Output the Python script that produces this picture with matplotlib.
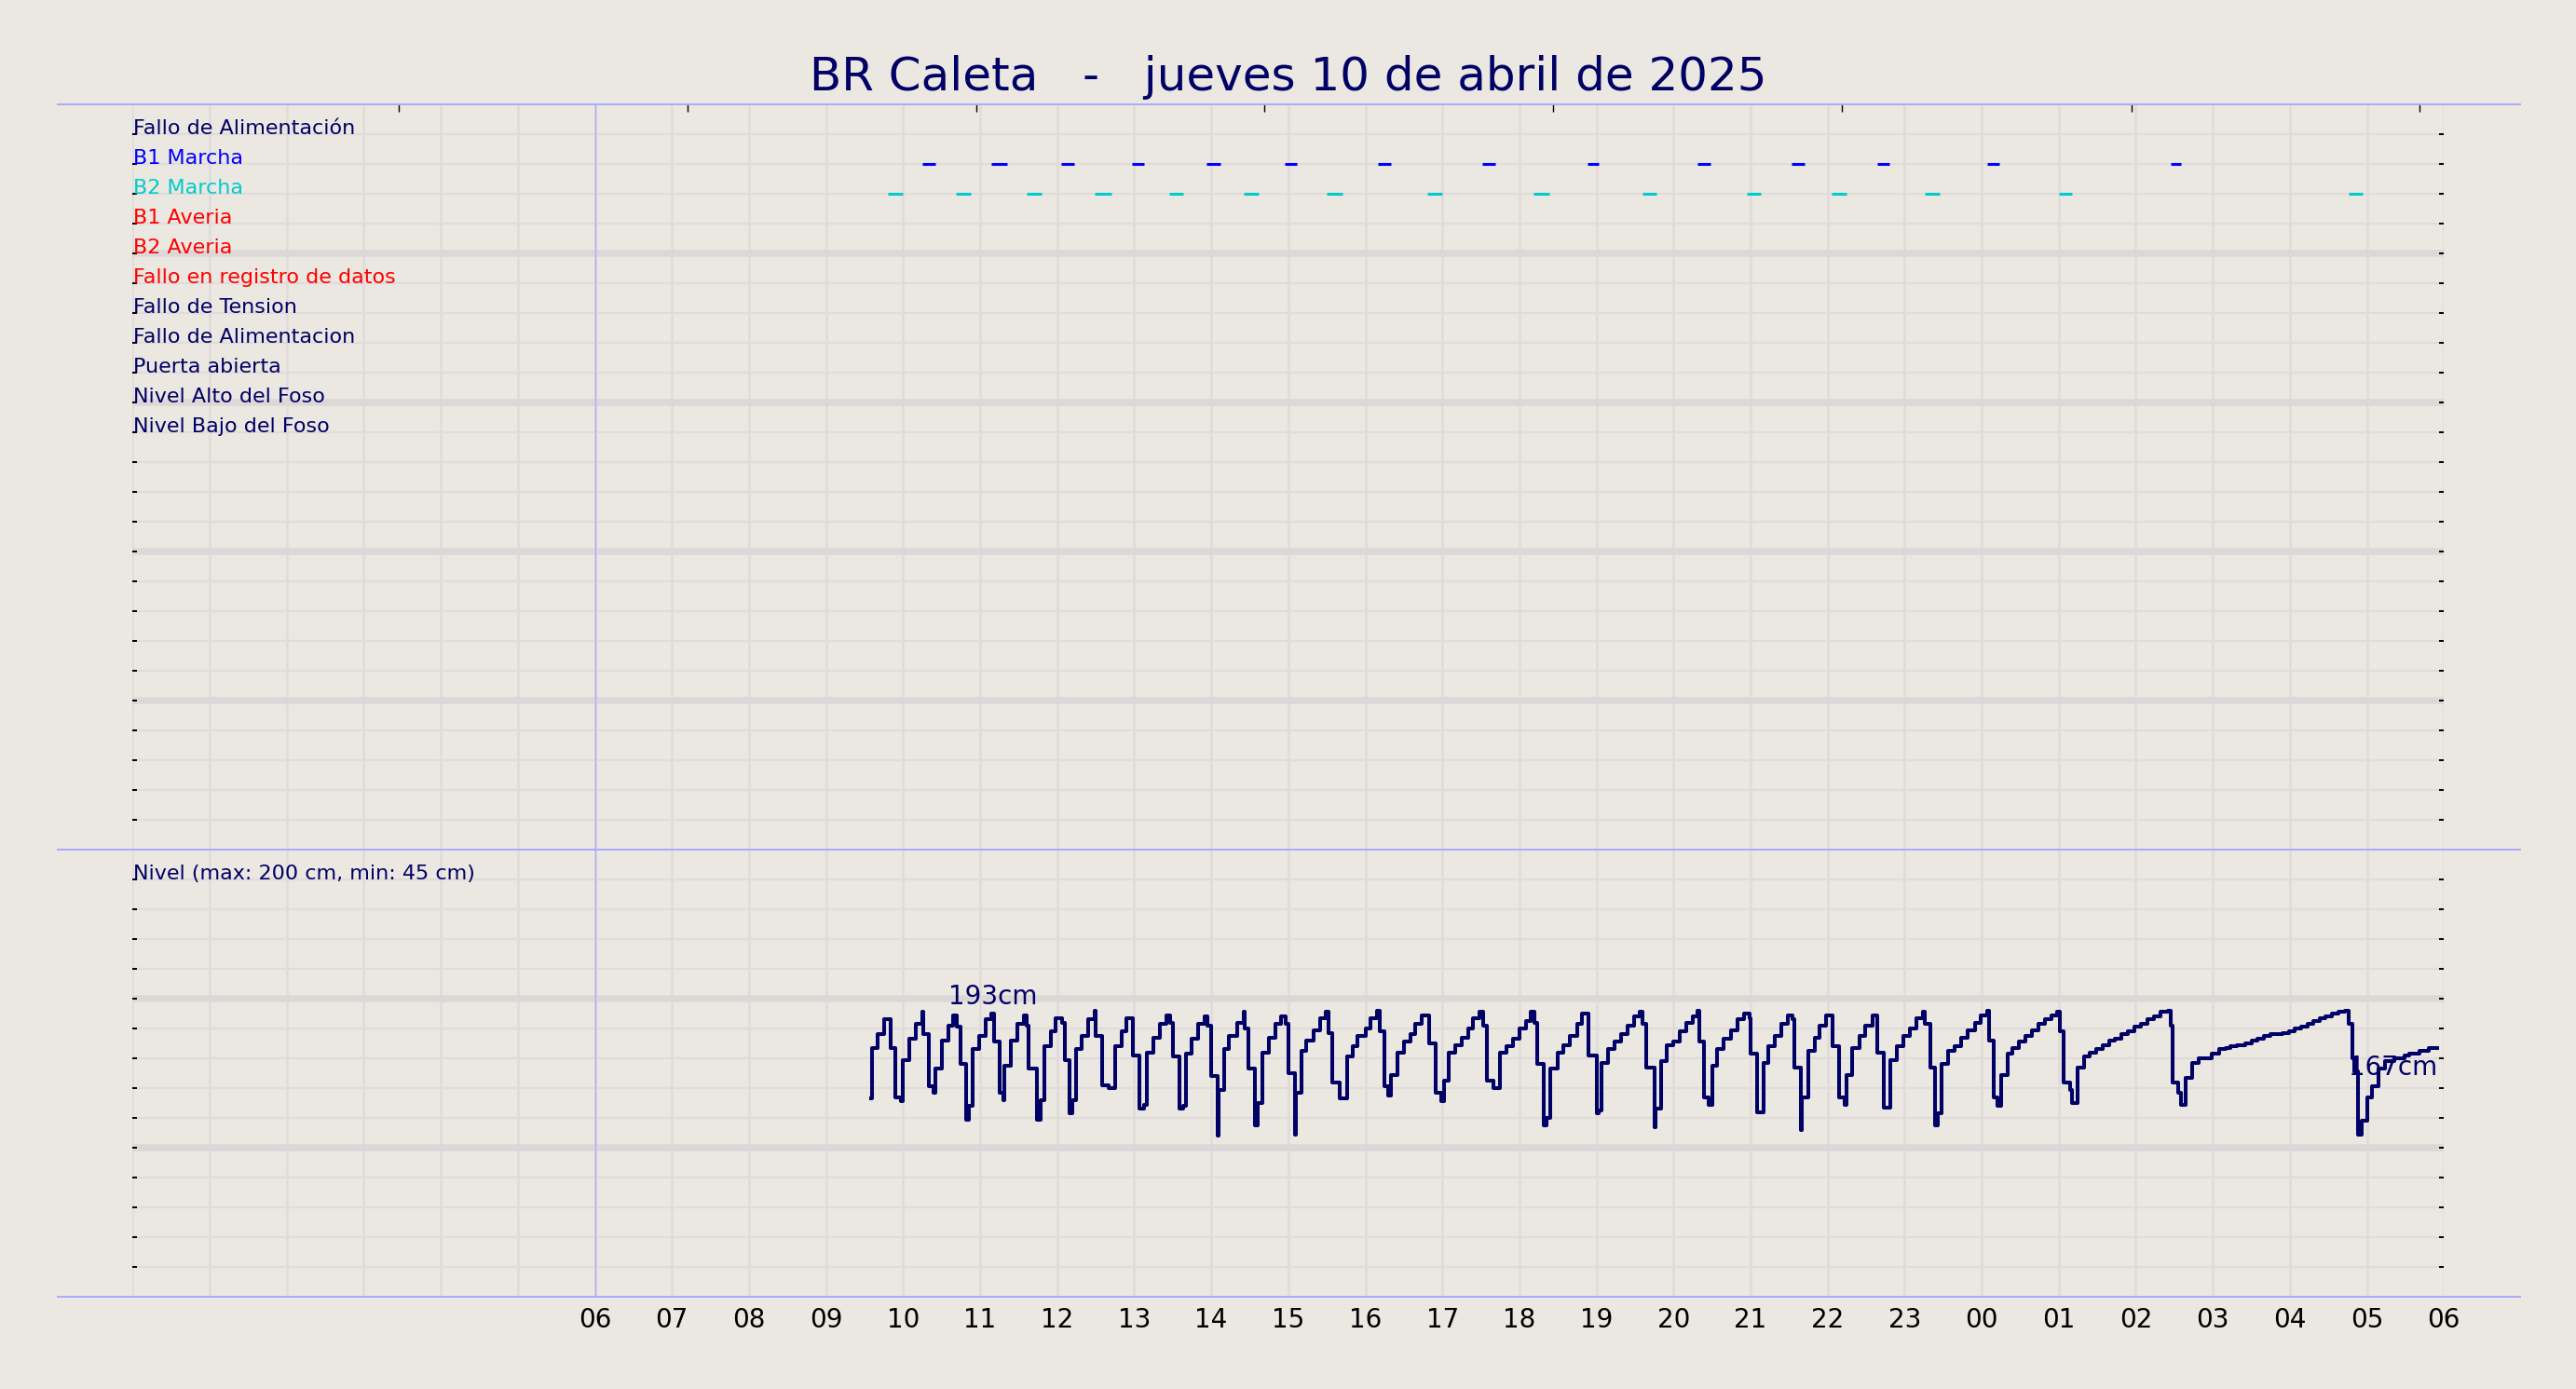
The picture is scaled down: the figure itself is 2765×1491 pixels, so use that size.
import matplotlib
matplotlib.use("Agg")
import matplotlib.pyplot as plt
from matplotlib.lines import Line2D
import numpy as np

# --- data -------------------------------------------------------------
title = "BR Caleta   -   jueves 10 de abril de 2025"

row_labels = ["Fallo de Alimentación", "B1 Marcha", "B2 Marcha", "B1 Averia",
              "B2 Averia", "Fallo en registro de datos", "Fallo de Tension",
              "Fallo de Alimentacion", "Puerta abierta", "Nivel Alto del Foso",
              "Nivel Bajo del Foso"]
row_colors = ["#000066", "#0000ff", "#00cccc", "#ff0000", "#ff0000", "#ff0000",
              "#000066", "#000066", "#000066", "#000066", "#000066"]

# pump running intervals, minutes from 00:00 of the day (values > 1440 are next day)
b1_start = [615, 669, 723, 778, 836, 897, 970, 1051, 1133, 1219, 1292, 1359, 1444, 1587]
b1_end = [625, 681, 733, 788, 847, 907, 980, 1061, 1142, 1229, 1302, 1368, 1454, 1595]
b2_start = [588, 641, 696, 749, 807, 865, 930, 1008, 1091, 1176, 1257, 1323, 1396, 1500, 1726]
b2_end = [600, 653, 708, 762, 818, 877, 942, 1020, 1103, 1187, 1268, 1335, 1407, 1510, 1737]

# pit level (cm), step series
level_min = [
    575, 576, 580, 585, 590, 594, 598, 600, 605, 610, 615, 616, 620, 624, 625, 630,
    635, 639, 642, 645, 649, 651, 654, 659, 664, 669, 671, 675, 678, 679, 684, 689,
    694, 696, 698, 704, 707, 710, 715, 719, 724, 726, 730, 732, 735, 739, 744, 749,
    750, 755, 760, 765, 770,
    774, 779, 784, 788, 790, 795, 800, 805, 808, 810, 815, 818, 820, 825, 830, 835,
    837, 840, 845, 846, 850, 854, 860, 865, 866, 869, 874, 876, 880, 885, 890, 894,
    898, 900, 905, 906, 910, 914, 920, 925, 929, 931, 934, 940, 946, 950, 954, 960,
    964, 969, 971, 975,
    978, 980, 985, 990, 995, 999, 1004, 1010, 1015, 1019, 1021, 1025, 1030, 1035,
    1040, 1044, 1049, 1052, 1055, 1060, 1065, 1070, 1075, 1080, 1085, 1089, 1092,
    1094, 1099, 1101, 1104, 1110, 1114, 1119, 1125, 1129, 1134, 1140, 1142, 1144,
    1149, 1154, 1159, 1164, 1169, 1174, 1176, 1179,
    1185, 1186, 1190, 1195, 1200, 1205, 1210, 1215, 1219, 1220, 1224, 1227, 1230,
    1234, 1239, 1245, 1250, 1255, 1259, 1260, 1265, 1270, 1274, 1279, 1284, 1289,
    1293, 1294, 1299, 1300, 1305, 1310, 1314, 1319, 1324, 1329, 1333, 1335, 1339,
    1345, 1349, 1355, 1359, 1364, 1369, 1374, 1379,
    1384, 1389, 1394, 1396, 1400, 1404, 1406, 1409, 1414, 1419, 1424, 1429, 1435,
    1439, 1444, 1446, 1449, 1452, 1455, 1460, 1464, 1469, 1474, 1479, 1484, 1489,
    1494, 1499, 1501, 1504, 1509, 1510, 1515, 1520, 1524, 1529, 1534, 1539, 1544,
    1549, 1554, 1559, 1564, 1569, 1574, 1579, 1585,
    1587, 1589, 1593, 1595, 1599, 1604, 1609, 1619, 1625, 1630, 1634, 1639, 1645,
    1650, 1655, 1660, 1665, 1674, 1679, 1684, 1689, 1694, 1698, 1703, 1708, 1713,
    1718, 1723, 1726, 1729, 1730, 1733, 1736, 1740, 1744, 1749, 1754, 1761, 1769,
    1773, 1781, 1788, 1795]
level_cm = [
    133, 167, 176, 186, 167, 134, 131, 159, 173, 183, 191, 176, 141, 137, 153, 172,
    182, 189, 181, 156, 119, 128, 166, 175, 186, 190, 171, 137, 132, 155, 172, 183,
    189, 182, 153, 119, 132, 168, 178, 187, 184, 159, 123, 132, 166, 175, 186, 192,
    175, 142, 140, 168, 178,
    187, 162, 126, 129, 164, 174, 183, 189, 184, 161, 126, 128, 163, 173, 183, 188,
    182, 148, 108, 139, 166, 175, 184, 191, 180, 153, 115, 130, 164, 174, 183, 188,
    183, 150, 109, 137, 165, 172, 179, 187, 191, 177, 144, 133, 161, 168, 175, 180,
    187, 192, 178, 141,
    135, 149, 164, 171, 176, 183, 189, 170, 137, 131, 145, 164, 169, 174,
    180, 187, 191, 182, 145, 140, 164, 168, 173, 180, 185, 191, 184,
    156, 115, 120, 153, 164, 169, 175, 183, 190, 162, 123, 125, 157,
    166, 171, 176, 182, 188, 191, 183, 154,
    114, 126, 158, 169, 171, 178, 184, 188, 192, 171, 134, 129, 155,
    166, 173, 179, 186, 190, 187, 163, 124, 157, 168, 175, 183, 189,
    186, 154, 112, 134, 165, 174, 182, 189, 168, 134, 129, 149, 167,
    175, 182, 189, 164, 127, 159, 168, 175,
    180, 187, 191, 183, 154, 115, 123, 156, 165, 168, 174, 179, 184,
    189, 192, 172, 134, 128, 149, 163, 167, 171, 175, 179, 183, 186,
    189, 191, 178, 144, 139, 130, 154, 161, 164, 166, 169, 172, 173,
    176, 178, 181, 183, 186, 188, 191, 192,
    182, 144, 137, 129, 147, 157, 160, 163, 166, 167, 168, 169, 170,
    172, 173, 175, 176, 177, 178, 180, 181, 183, 185, 187, 188, 190,
    191, 192, 183, 160, 151, 109, 118, 134, 141, 153, 158, 160, 162,
    163, 165, 167, 167]

hour_labels = ["06", "07", "08", "09", "10", "11", "12", "13", "14", "15", "16", "17",
               "18", "19", "20", "21", "22", "23", "00", "01", "02", "03", "04", "05", "06"]
top_tick_hours = [3.45, 7.20, 10.95, 14.69, 18.44, 22.19, 25.94, 29.68]

max_label = "193cm"
last_label = "167cm"
scale_label = "Nivel (max: 200 cm, min: 45 cm)"

# --- style --------------------------------------------------------------
BG = "#ebe7e1"
GRID = "#e1dcdb"
GRID_MAJ = "#ddd8d8"
NAVY = "#000066"
LBLUE = "#aaaaff"

fig = plt.figure(figsize=(13.825, 7.455), dpi=200, facecolor=BG)
L, W = 0.05147, 0.89728
y_top, y_mid, y_bot = 0.92488, 0.38833, 0.0664
ax_top = fig.add_axes([L, y_mid, W, y_top - y_mid])
ax_bot = fig.add_axes([L, y_bot, W, y_mid - y_bot])


def base_grid(ax, rows, row_pos):
    ax.set_facecolor(BG)
    ax.set_xlim(0, 30)
    for s in ax.spines.values():
        s.set_visible(False)
    for h in range(31):
        ax.axvline(h, color=GRID, lw=1.0, zorder=0)
    for r in range(1, rows):
        major = (r % 5 == 0)
        ax.axhline(row_pos(r), color=GRID_MAJ if major else GRID,
                   lw=2.7 if major else 0.85, zorder=0)
    ax.set_yticks([row_pos(r) for r in range(1, rows)])
    ax.tick_params(axis="y", left=True, right=True, direction="in", length=1.8,
                   width=0.7, color="black", labelleft=False, labelright=False)
    ax.axvline(6, color=LBLUE, lw=0.5, zorder=1)


# top panel: event rows
base_grid(ax_top, 25, lambda r: r)
ax_top.set_ylim(25, 0)
ax_top.set_xticks(top_tick_hours)
ax_top.tick_params(axis="x", top=True, bottom=False, labeltop=False, labelbottom=False,
                   direction="in", length=2.9, width=0.5, color="black")
for i, (lab, col) in enumerate(zip(row_labels, row_colors)):
    ax_top.text(0.005, i + 1, lab, color=col, fontsize=8.0, ha="left", va="baseline")
ax_top.hlines([2] * len(b1_start), np.array(b1_start) / 60, np.array(b1_end) / 60,
              color="#0000ff", lw=1.1, zorder=3)
ax_top.hlines([3] * len(b2_start), np.array(b2_start) / 60, np.array(b2_end) / 60,
              color="#00cccc", lw=1.1, zorder=3)

# bottom panel: level
base_grid(ax_bot, 15, lambda r: 300 - 20 * r)
ax_bot.set_ylim(0, 300)
ax_bot.text(0.005, 280, scale_label, color=NAVY, fontsize=8.0, ha="left", va="baseline")
ax_bot.plot(np.array(level_min) / 60, level_cm, drawstyle="steps-post",
            color=NAVY, lw=1.45, zorder=3)
ax_bot.text(11.17, 196, max_label, color=NAVY, fontsize=10, ha="center", va="baseline", zorder=4)
ax_bot.text(29.92, 148.8, last_label, color=NAVY, fontsize=10, ha="right", va="baseline", zorder=4)
ax_bot.set_xticks(range(6, 31))
ax_bot.set_xticklabels(hour_labels)
ax_bot.tick_params(axis="x", bottom=True, top=False, length=0, pad=3.8,
                   labelsize=10, labelcolor="black")

# separator lines across the figure
for yy in (y_top, y_mid, y_bot):
    fig.add_artist(Line2D([0.0223, 0.9782], [yy, yy], transform=fig.transFigure,
                          color=LBLUE, lw=0.7))

fig.text(0.5, 0.9351, title, ha="center", va="baseline", fontsize=18.0, color=NAVY)

fig.savefig("out.png", dpi=200, facecolor=BG)
